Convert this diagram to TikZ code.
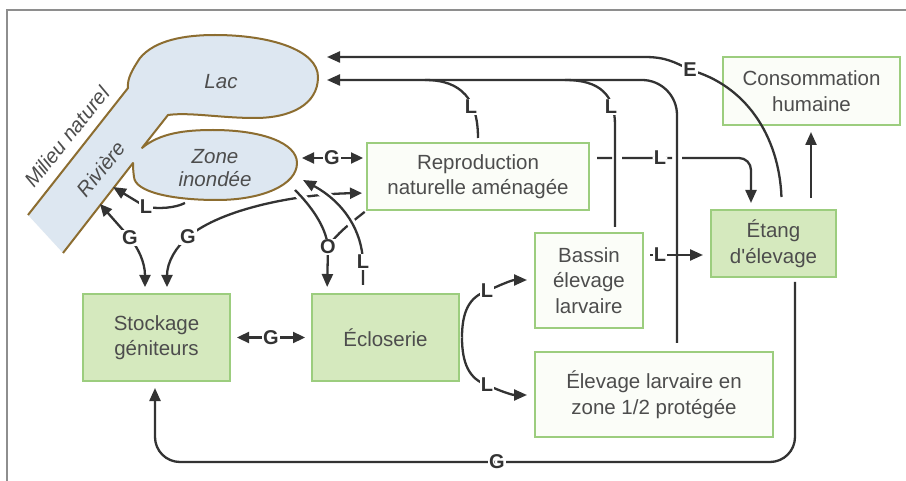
\documentclass[tikz,border=0pt]{standalone}
\usepackage{fontspec}
\setmainfont{Liberation Sans}
\usetikzlibrary{arrows.meta,calc}

\definecolor{ink}{HTML}{333333}
\definecolor{txt}{HTML}{4D4D4D}
\definecolor{boxline}{HTML}{9CCD7E}
\definecolor{boxfill}{HTML}{D5E9BE}
\definecolor{boxpale}{HTML}{FBFDF8}
\definecolor{water}{HTML}{DDE7F1}
\definecolor{shore}{HTML}{8C6D30}
\definecolor{framegrey}{HTML}{8E8E8E}

% outline of river, lake and flooded zone (open at the river mouth)
\newcommand{\shorepath}{(28,215) -- (128,88)
  .. controls (127,79) and (132,70) .. (140,58)
  .. controls (155,40) and (185,35) .. (215,35)
  .. controls (270,35) and (318,50) .. (318,77)
  .. controls (318,105) and (290,118) .. (255,118)
  .. controls (220,118) and (190,112) .. (168,115)
  -- (142,148)
  .. controls (160,133) and (185,130) .. (213,130)
  .. controls (262,130) and (297,143) .. (297,163)
  .. controls (297,185) and (262,200) .. (217,200)
  .. controls (172,200) and (135,192) .. (134,177)
  .. controls (133,170) and (133,166) .. (133,163)
  -- (63,253)}

\tikzset{
  box/.style={draw=boxline, line width=1.4pt, rectangle, inner sep=2pt, outer sep=0pt,
    align=center, text=txt, font=\fontsize{20.5}{25.5}\selectfont},
  greenbox/.style={box, fill=boxfill},
  palebox/.style={box, fill=boxpale},
  lakefont/.style={text=txt, align=center, font=\itshape\fontsize{20.5}{23}\selectfont},
  flow/.style={draw=ink, line width=2.3pt},
  arr/.style={flow, -{Triangle[length=13pt,width=11pt]}},
  darr/.style={flow, {Triangle[length=12pt,width=11pt]}-{Triangle[length=12pt,width=11pt]}},
  lbl/.style={fill=white, inner sep=1.2pt, text=ink, font=\bfseries\fontsize{20}{20}\selectfont},
  halo/.style={preaction={draw=white, line width=9pt, arrows=-}}
}

\begin{document}
\begin{tikzpicture}[x=1pt,y=-1pt]
\useasboundingbox (0,0) rectangle (906,481);
\fill[white] (0,0) rectangle (906,481);
\draw[framegrey, line width=1.2pt] (7,481) -- (7,10) -- (906,10);

% natural environment
\fill[water] \shorepath -- cycle;
\draw[shore, line width=2pt, line join=round] \shorepath;
\node[lakefont] (lac) at (221,82) {Lac};
\node[lakefont] (zone) at (215,168) {Zone\\inondée};
\node[lakefont, rotate=51] (riviere) at (101,169) {Rivière};
\node[lakefont, rotate=51] (milieu) at (67,137) {Milieu naturel};

\coordinate (lacA) at (327,57);
\coordinate (lacB) at (327,80);
\coordinate (rivA) at (100,204);
\coordinate (rivB) at (113,187);
\coordinate (zoneE) at (297,158);
\coordinate (zoneS) at (185,203);
\coordinate (zoneSE) at (295,190);
\coordinate (zoneTip) at (303,180);

% boxes
\node[palebox, minimum width=222pt, minimum height=67pt] (repro) at (478,176.5) {Reproduction\\naturelle aménagée};
\node[palebox, minimum width=177pt, minimum height=68pt] (conso) at (811.5,91) {Consommation\\humaine};
\node[greenbox, minimum width=125pt, minimum height=67pt] (etang) at (773.5,243.5) {Étang\\d\textquotesingle élevage};
\node[greenbox, minimum width=147pt, minimum height=87pt] (stock) at (156.5,337.5) {Stockage\\géniteurs};
\node[greenbox, minimum width=147pt, minimum height=87pt] (eclo) at (385.5,337.5) {Écloserie};
\node[palebox, minimum width=108pt, minimum height=95pt] (bassin) at (589,280.5) {Bassin\\élevage\\larvaire};
\node[palebox, minimum width=238pt, minimum height=85pt] (elevz) at (654,394.5) {Élevage larvaire en\\zone 1/2 protégée};

% reproduction -> étang (passes under the two vertical returns)
\draw[arr, rounded corners=12pt, shorten <=8pt, shorten >=7pt,
      dash pattern=on 15pt off 10pt on 50pt off 10pt on 600pt off 0pt]
  (repro.east |- 0,158) -| (751,0 |- etang.north)
  node[lbl] at (660,158) {L};

% returns to the lake
\draw[arr, rounded corners=35pt, shorten <=9pt] (677,0 |- elevz.north) |- (lacB);
\draw[flow, shorten <=6pt] (615,0 |- bassin.north) -- (615,125)
  .. controls (615,95) and (600,80) .. (565,80);
\node[lbl] at (611,107) {L};
\draw[flow, shorten <=5pt] (478,0 |- repro.north)
  .. controls (478,100) and (462,80) .. (425,80);
\node[lbl] at (471,107) {L};
\draw[arr, shorten <=13pt] (782,0 |- etang.north)
  .. controls (779,135) and (745,85) .. (690,70) node[lbl] {E}
  .. controls (675,62) and (665,57) .. (645,57) -- (lacA);

% étang -> consommation
\draw[arr, shorten <=12pt, shorten >=7pt] (811,0 |- etang.north) -- (811,0 |- conso.south);

% bassin -> étang
\draw[arr, shorten <=7pt, shorten >=8pt] (bassin.east |- 0,255) -- (etang.west |- 0,255)
  node[lbl] at (660,255) {L};

% écloserie -> larval rearing
\draw[arr, shorten >=8pt] ([xshift=3pt]eclo.east)
  .. controls (462,312) and (469,297) .. (487,291) node[lbl] {L}
  .. controls (500,285) and (512,280) .. (bassin.west |- 0,280);
\draw[arr, shorten >=8pt] ([xshift=3pt]eclo.east)
  .. controls (462,363) and (469,379) .. (487,385) node[lbl] {L}
  .. controls (500,391) and (512,395) .. (elevz.west |- 0,395);

% géniteurs exchanges
\draw[darr, shorten <=7pt, shorten >=7pt] (stock.east) -- (eclo.west) node[midway, lbl] {G};
\draw[darr, shorten <=5pt, shorten >=4pt] (zoneE) -- (repro.west |- 0,158) node[midway, lbl] {G};
\draw[darr, shorten <=7pt] (145,0 |- stock.north)
  .. controls (145,262) and (138,248) .. (130,238) node[lbl] {G} -- (rivA);
\draw[darr, shorten <=7pt, shorten >=5pt] (167,0 |- stock.north)
  .. controls (167,262) and (176,247) .. (188,237) node[lbl] {G}
  .. controls (222,208) and (300,194) .. (repro.west |- 0,193);

% larvae from the flooded zone to the river
\draw[arr] (zoneS) .. controls (175,208) and (160,209) .. (146,207) node[lbl] {L} -- (rivB);

% eggs to the hatchery
\draw[flow, shorten <=3pt] (repro.south west) .. controls (352,222) and (336,234) .. (328,247);
\draw[arr, halo, shorten >=7pt] (zoneSE) .. controls (310,205) and (326,226) .. (328,247)
  node[lbl] {O} -- (327,0 |- eclo.north);

% larvae from the hatchery to the flooded zone
\draw[arr, halo, shorten <=9pt] (363,0 |- eclo.north) -- (363,262) node[lbl] {L}
  .. controls (362,232) and (345,203) .. (zoneTip);

% géniteurs back from the ponds
\draw[arr, rounded corners=25pt, shorten <=5pt, shorten >=7pt]
  (795,0 |- etang.south) |- (500,462) -| (155,0 |- stock.south)
  node[lbl] at (497,462) {G};
\end{tikzpicture}
\end{document}
